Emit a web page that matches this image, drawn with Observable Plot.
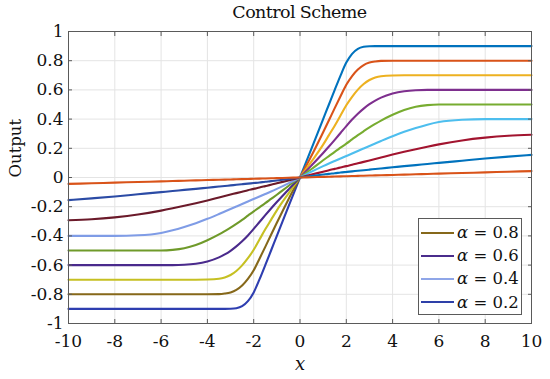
<!DOCTYPE html>
<html>
<head>
<meta charset="utf-8">
<script src="https://cdn.jsdelivr.net/npm/d3@7"></script>
<script src="https://cdn.jsdelivr.net/npm/@observablehq/plot@0.6"></script>
<style>
  body { margin: 0; background: #fff; }
  #wrap { position: relative; width: 550px; height: 379px; color: #111; font-family: "DejaVu Serif", serif; }
  #title { position: absolute; left: 68px; width: 463px; top: 2px; text-align: center; font-size: 17.5px; letter-spacing: -0.6px; }
  #legend { position: absolute; left: 418px; top: 218px; width: 102px; height: 95px; border: 1px solid #5a5a5a; background: #fff; }
  .row { position: absolute; left: 2px; height: 22px; display: flex; align-items: center; font-size: 16.5px; white-space: nowrap; }
  .sw { width: 33px; height: 2px; margin-right: 3px; }
</style>
</head>
<body>
<div id="wrap">
  <div id="chart"></div>
  <div id="title">Control Scheme</div>
  <div id="legend"></div>
</div>
<script>
// sample positions on the right half (x >= 0); the left half is the mirror image
const xPos = [0, 0.5, 1, 1.25, 1.5, 1.75, 2, 2.25, 2.5, 2.75, 3, 3.25, 3.5, 4, 4.5, 5, 5.5, 6, 7, 8, 9, 10];

const curve90 = [0, 0.2, 0.4, 0.5, 0.6, 0.698, 0.787, 0.847, 0.881, 0.895, 0.899, 0.9, 0.9, 0.9, 0.9, 0.9, 0.9, 0.9, 0.9, 0.9, 0.9, 0.9];
const curve80 = [0, 0.15, 0.31, 0.392, 0.475, 0.556, 0.635, 0.695, 0.74, 0.77, 0.787, 0.795, 0.799, 0.8, 0.8, 0.8, 0.8, 0.8, 0.8, 0.8, 0.8, 0.8];
const curve70 = [0, 0.11, 0.225, 0.29, 0.355, 0.425, 0.495, 0.553, 0.602, 0.64, 0.668, 0.685, 0.694, 0.699, 0.7, 0.7, 0.7, 0.7, 0.7, 0.7, 0.7, 0.7];
const curve60 = [0, 0.083, 0.168, 0.212, 0.258, 0.305, 0.352, 0.397, 0.437, 0.472, 0.502, 0.527, 0.547, 0.575, 0.591, 0.598, 0.6, 0.6, 0.6, 0.6, 0.6, 0.6];
const curve50 = [0, 0.058, 0.118, 0.147, 0.176, 0.204, 0.232, 0.261, 0.29, 0.317, 0.343, 0.367, 0.39, 0.43, 0.463, 0.485, 0.496, 0.5, 0.5, 0.5, 0.5, 0.5];
const curve40 = [0, 0.04, 0.078, 0.096, 0.113, 0.13, 0.147, 0.164, 0.182, 0.199, 0.216, 0.233, 0.25, 0.283, 0.313, 0.339, 0.362, 0.38, 0.396, 0.4, 0.4, 0.4];
const curve30 = [0, 0.02, 0.04, 0.05, 0.059, 0.068, 0.078, 0.087, 0.097, 0.107, 0.117, 0.127, 0.137, 0.157, 0.176, 0.194, 0.211, 0.227, 0.254, 0.273, 0.286, 0.293];
const curve15 = [0, 0.01, 0.02, 0.025, 0.029, 0.034, 0.038, 0.042, 0.046, 0.05, 0.054, 0.058, 0.062, 0.07, 0.078, 0.085, 0.093, 0.1, 0.115, 0.13, 0.143, 0.155];
const curve04 = [0, 0.002, 0.0044, 0.0055, 0.0066, 0.0077, 0.0088, 0.0099, 0.011, 0.0121, 0.0132, 0.0143, 0.0154, 0.0176, 0.0198, 0.022, 0.0242, 0.0264, 0.0308, 0.0352, 0.0396, 0.044];

const rightColors = ["#0072BD", "#D95319", "#EDB120", "#7E2F8E", "#77AC30", "#4DBEEE", "#A2142F", "#0072BD", "#D95319"];
const leftColors  = ["#2E3EB0", "#86681A", "#C6C022", "#4A2A8C", "#6F9A2A", "#7F9CE6", "#6B1A2A", "#2B4BA5", "#D95319"];

const xTicks = [-10, -8, -6, -4, -2, 0, 2, 4, 6, 8, 10];
const yTicks = [-1, -0.8, -0.6, -0.4, -0.2, 0, 0.2, 0.4, 0.6, 0.8, 1];

const legendLabels = ["0.8", "0.6", "0.4", "0.2"];
const legendColors = ["#86681A", "#4A2C8C", "#8FA6E8", "#2E40A8"];

const series = [curve90, curve80, curve70, curve60, curve50, curve40, curve30, curve15, curve04];
const rows = [];
series.forEach((vals, i) => {
  for (let j = vals.length - 1; j >= 0; j--) rows.push({id: "L" + i, x: -xPos[j], y: -vals[j], color: leftColors[i]});
});
series.forEach((vals, i) => {
  vals.forEach((v, j) => rows.push({id: "R" + i, x: xPos[j], y: v, color: rightColors[i]}));
});

const axisColor = "#5a5a5a";
const fmt = d => String(d);

const chart = Plot.plot({
  width: 550,
  height: 379,
  marginLeft: 68,
  marginRight: 19,
  marginTop: 31,
  marginBottom: 56,
  style: {fontFamily: "'DejaVu Serif', serif", fontSize: "17px", background: "transparent", color: "#111"},
  x: {domain: [-10, 10]},
  y: {domain: [-1, 1]},
  marks: [
    Plot.gridX(xTicks, {stroke: "#e4e4e4", strokeOpacity: 1}),
    Plot.gridY(yTicks, {stroke: "#e4e4e4", strokeOpacity: 1}),
    Plot.line(rows, {x: "x", y: "y", z: "id", stroke: "color", strokeWidth: 2.1, curve: "monotone-x"}),
    Plot.frame({stroke: axisColor}),
    Plot.axisX(xTicks, {anchor: "bottom", tickSize: -4, tickPadding: 15, tickFormat: fmt, stroke: axisColor, fill: "#111", label: null}),
    Plot.axisX(xTicks, {anchor: "top", tickSize: -4, tickFormat: () => "", stroke: axisColor, label: null}),
    Plot.axisY(yTicks, {anchor: "left", tickSize: -4, tickPadding: 9, tickFormat: fmt, stroke: axisColor, fill: "#111", label: null}),
    Plot.axisY(yTicks, {anchor: "right", tickSize: -4, tickFormat: () => "", stroke: axisColor, label: null}),
    Plot.text(["x"], {frameAnchor: "bottom", dy: 46, fontStyle: "italic", fontSize: 18, fill: "#111"}),
    Plot.text(["Output"], {frameAnchor: "left", dx: -53, rotate: -90, fontSize: 16.5, fill: "#111"})
  ]
});
document.getElementById("chart").appendChild(chart);

const legend = document.getElementById("legend");
const rowCenters = [13.7, 36.5, 59.5, 83];
legendLabels.forEach((lab, i) => {
  const r = document.createElement("div");
  r.className = "row";
  r.style.top = (rowCenters[i] - 11) + "px";
  r.innerHTML = `<span class="sw" style="background:${legendColors[i]}"></span><span><i>α</i> = ${lab}</span>`;
  legend.appendChild(r);
});
</script>
</body>
</html>
